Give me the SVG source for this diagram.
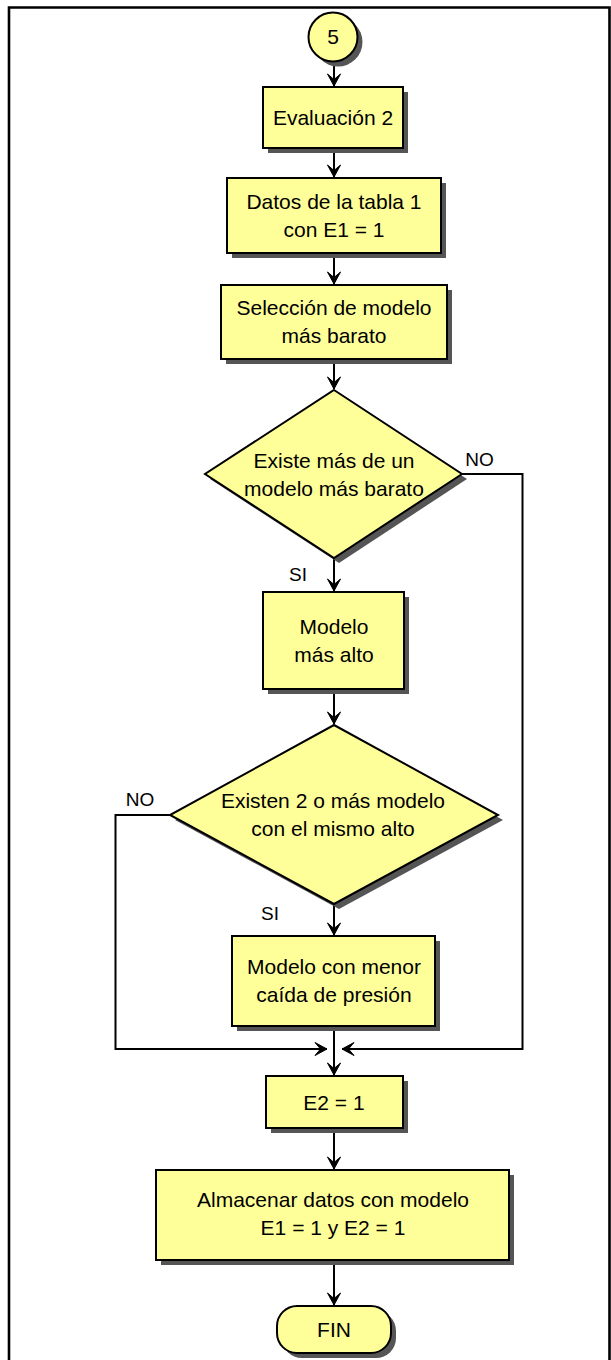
<svg xmlns="http://www.w3.org/2000/svg" width="611" height="1360" viewBox="0 0 611 1360">
<style>
.sh{fill:#555555;stroke:none}
.nd{fill:#FFFF99;stroke:#000;stroke-width:2}
.t{font-family:"Liberation Sans",Arial,sans-serif;font-size:21px;fill:#000;text-anchor:middle}
.lb{font-family:"Liberation Sans",Arial,sans-serif;font-size:19px;fill:#000;text-anchor:middle}
.ln{fill:none;stroke:#000;stroke-width:2}
</style>
<defs>
<marker id="ar" markerUnits="userSpaceOnUse" markerWidth="16" markerHeight="16" viewBox="-13 -8 15 16" refX="0" refY="0" orient="auto">
<path d="M0,0 L-12,-6.5 L-6.5,0 L-12,6.5 Z" fill="#000" stroke="#000" stroke-width="1" stroke-linejoin="miter"/>
</marker>
</defs>
<rect x="0" y="0" width="611" height="1360" fill="#fff"/>
<path d="M9,1360 L9,7.5 L609.5,7.5 L609.5,1360" fill="none" stroke="#000" stroke-width="2.6"/>

<g id="connectors">
<path class="ln" d="M334,62 L334,86" marker-end="url(#ar)"/>
<path class="ln" d="M334,148 L334,177" marker-end="url(#ar)"/>
<path class="ln" d="M334,253 L334,284" marker-end="url(#ar)"/>
<path class="ln" d="M334,359 L334,389" marker-end="url(#ar)"/>
<path class="ln" d="M334,558 L334,591" marker-end="url(#ar)"/>
<path class="ln" d="M334,689 L334,724" marker-end="url(#ar)"/>
<path class="ln" d="M334,904 L334,935" marker-end="url(#ar)"/>
<path class="ln" d="M462,474 L522.5,474 L522.5,1049 L342,1049" marker-end="url(#ar)"/>
<path class="ln" d="M170,815 L115.5,815 L115.5,1049 L327,1049" marker-end="url(#ar)"/>
<path class="ln" d="M334,1026 L334,1075" marker-end="url(#ar)"/>
<path class="ln" d="M334,1128 L334,1169" marker-end="url(#ar)"/>
<path class="ln" d="M334,1260 L334,1305" marker-end="url(#ar)"/>
<text class="lb" x="479.5" y="466">NO</text>
<text class="lb" x="298" y="581">SI</text>
<text class="lb" x="140" y="806">NO</text>
<text class="lb" x="270" y="920">SI</text>
</g>

<g id="start5">
<circle class="sh" cx="338" cy="42" r="24.5"/>
<circle class="nd" cx="333" cy="37" r="24.5"/>
<text class="t" x="333" y="44">5</text>
</g>

<g id="evaluacion2">
<rect class="sh" x="268" y="92" width="140" height="61"/>
<rect class="nd" x="263" y="87" width="140" height="61"/>
<text class="t" x="333" y="125">Evaluación 2</text>
</g>

<g id="datos">
<rect class="sh" x="232" y="183" width="214" height="75"/>
<rect class="nd" x="227" y="178" width="214" height="75"/>
<text class="t" x="334" y="209">Datos de la tabla 1</text>
<text class="t" x="334" y="237">con E1 = 1</text>
</g>

<g id="seleccion">
<rect class="sh" x="226" y="290" width="226" height="74"/>
<rect class="nd" x="221" y="285" width="226" height="74"/>
<text class="t" x="334" y="315">Selección de modelo</text>
<text class="t" x="334" y="343">más barato</text>
</g>

<g id="decision1">
<polygon class="sh" points="339,395 467,479 339,563 210,479"/>
<polygon class="nd" points="334,390 462,474 334,558 205,474"/>
<text class="t" x="334" y="467.5">Existe más de un</text>
<text class="t" x="334" y="495.5">modelo más barato</text>
</g>

<g id="modeloAlto">
<rect class="sh" x="268" y="597" width="141" height="97"/>
<rect class="nd" x="263" y="592" width="141" height="97"/>
<text class="t" x="334" y="634">Modelo</text>
<text class="t" x="334" y="662">más alto</text>
</g>

<g id="decision2">
<polygon class="sh" points="339,730 503,820 339,909 175,820"/>
<polygon class="nd" points="334,725 498,815 334,904 170,815"/>
<text class="t" x="333" y="808">Existen 2 o más modelo</text>
<text class="t" x="333" y="836">con el mismo alto</text>
</g>

<g id="menorCaida">
<rect class="sh" x="237" y="941" width="203" height="90"/>
<rect class="nd" x="232" y="936" width="203" height="90"/>
<text class="t" x="334" y="974">Modelo con menor</text>
<text class="t" x="334" y="1002">caída de presión</text>
</g>

<g id="e2">
<rect class="sh" x="271" y="1081" width="137" height="52"/>
<rect class="nd" x="266" y="1076" width="137" height="52"/>
<text class="t" x="334" y="1109.5">E2 = 1</text>
</g>

<g id="almacenar">
<rect class="sh" x="161" y="1175" width="353" height="90"/>
<rect class="nd" x="156" y="1170" width="353" height="90"/>
<text class="t" x="333" y="1207">Almacenar datos con modelo</text>
<text class="t" x="333" y="1235">E1 = 1 y E2 = 1</text>
</g>

<g id="fin">
<rect class="sh" x="282" y="1311" width="114" height="47" rx="20"/>
<rect class="nd" x="277" y="1306" width="114" height="47" rx="20"/>
<text class="t" x="334" y="1337">FIN</text>
</g>
</svg>
